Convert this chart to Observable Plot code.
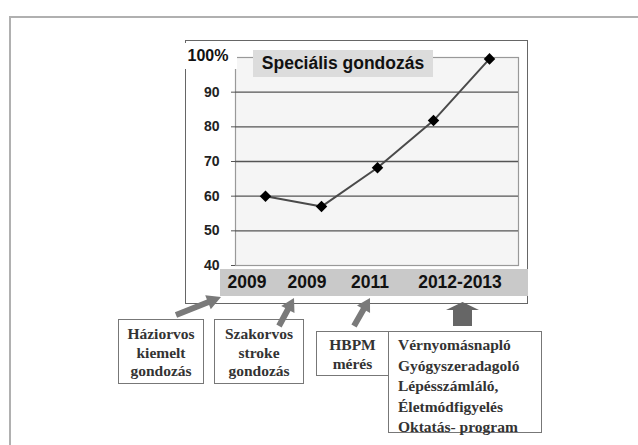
<!DOCTYPE html>
<html><head><meta charset="utf-8">
<script src="https://cdn.jsdelivr.net/npm/d3@7"></script>
<script src="https://cdn.jsdelivr.net/npm/@observablehq/plot@0.6"></script>
<style>
body{margin:0;background:#fff;}
#wrap{position:relative;width:638px;height:445px;overflow:hidden;font-family:"Liberation Sans",Arial,sans-serif;}
#wrap svg{position:absolute;left:0;top:0;}
.abs{position:absolute;box-sizing:border-box;}
.box{position:absolute;box-sizing:border-box;border:1.5px solid #777;background:#fff;font-family:"Liberation Serif","Times New Roman",serif;font-weight:bold;font-size:15.5px;color:#333;line-height:18.5px;white-space:nowrap;}
.yr{position:absolute;top:0;font-weight:bold;font-size:17.5px;color:#111;line-height:27px;transform:translateX(-50%);white-space:nowrap;}
</style></head>
<body><div id="wrap"></div>
<script>
const points = ["p1","p2","p3","p4","p5"];
const values = [60, 57, 68.2, 81.8, 99.6];
const yTicks = [40, 50, 60, 70, 80, 90];
const gridValues = [50, 60, 70, 80, 90];
const title = "Speciális gondozás";
const topLabel = "100%";
const yearLabels = ["2009", "2009", "2011", "2012-2013"];
const notes = [
  ["Háziorvos", "kiemelt", "gondozás"],
  ["Szakorvos", "stroke", "gondozás"],
  ["HBPM", "mérés"],
  ["Vérnyomásnapló", "Gyógyszeradagoló", "Lépésszámláló,", "Életmódfigyelés", "Oktatás- program"]
];

const data = points.map((p, i) => ({p, v: values[i]}));
const wrap = document.getElementById("wrap");

// outer frame and inner chart frame (drawn behind)
const outer = document.createElement("div");
outer.className = "abs";
Object.assign(outer.style, {left:"9px", top:"16px", width:"640px", height:"440px", borderTop:"2px solid #b0b0b0", borderLeft:"2px solid #b0b0b0"});
wrap.appendChild(outer);
const inner = document.createElement("div");
inner.className = "abs";
Object.assign(inner.style, {left:"185px", top:"40px", width:"343px", height:"264px", border:"1.5px solid #666", background:"#fff"});
wrap.appendChild(inner);

const chart = Plot.plot({
  width: 638, height: 445,
  marginLeft: 235, marginRight: 120, marginTop: 57, marginBottom: 180,
  style: {background: "transparent", fontFamily: "Liberation Sans, Arial, sans-serif"},
  x: {type: "point", domain: points, padding: 0.5, axis: null},
  y: {domain: [40, 100], axis: null},
  marks: [
    Plot.frame({fill: "#f5f5f5", stroke: "#999", strokeWidth: 1.2}),
    Plot.ruleY(gridValues, {stroke: "#555", strokeWidth: 1.3}),
    Plot.axisY({ticks: yTicks, tickSize: 4, tickPadding: 12, fontSize: 14, fontWeight: "bold", fill: "#222", stroke: "#555", label: null, tickFormat: d => String(d)}),
    Plot.line(data, {x: "p", y: "v", stroke: "#4a4a4a", strokeWidth: 2}),
    Plot.dot(data, {x: "p", y: "v", symbol: "square", rotate: 45, r: 4.6, fill: "#000", stroke: "none"})
  ]
});
wrap.appendChild(chart);

// 100% label
const hundred = document.createElement("div");
hundred.className = "abs";
Object.assign(hundred.style, {left:"179px", top:"43px", width:"58px", height:"26px", background:"#fff", fontWeight:"bold", fontSize:"16px", color:"#111", lineHeight:"26px", textAlign:"center"});
hundred.textContent = topLabel;
wrap.appendChild(hundred);

// title
const t = document.createElement("div");
t.className = "abs";
Object.assign(t.style, {left:"253px", top:"50px", width:"180px", height:"27px", background:"#dcdcdc", fontWeight:"bold", fontSize:"17.5px", color:"#111", lineHeight:"27px", textAlign:"center", whiteSpace:"nowrap"});
t.textContent = title;
wrap.appendChild(t);

// year bar
const bar = document.createElement("div");
bar.className = "abs";
Object.assign(bar.style, {left:"220px", top:"269px", width:"308px", height:"27px", background:"#c9c9c9"});
wrap.appendChild(bar);
const yrPos = [27, 87, 150, 240];
yearLabels.forEach((s, i) => {
  const d = document.createElement("div");
  d.className = "yr";
  d.style.left = yrPos[i] + "px";
  d.textContent = s;
  bar.appendChild(d);
});

// note boxes
const boxes = [
  {l:118, t:319, w:86, h:65, align:"center", pad:"5px 0"},
  {l:214, t:319, w:90, h:65, align:"center", pad:"5px 0"},
  {l:316, t:331, w:73, h:45, align:"center", pad:"3px 0"},
  {l:388, t:331, w:154, h:102, align:"left", pad:"3px 0 0 9px"}
];
boxes.forEach((b, i) => {
  const d = document.createElement("div");
  d.className = "box";
  Object.assign(d.style, {left:b.l+"px", top:b.t+"px", width:b.w+"px", height:b.h+"px", textAlign:b.align, padding:b.pad});
  if (i === 3) d.style.lineHeight = "20.5px";
  if (i === 2) d.style.lineHeight = "19px";
  d.innerHTML = notes[i].join("<br>");
  wrap.appendChild(d);
});

// arrows overlay
const svg = d3.select(wrap).append("svg").attr("width", 638).attr("height", 445).style("pointer-events", "none");
function arrow(x1, y1, x2, y2, w, hw, hl, fill) {
  const dx = x2 - x1, dy = y2 - y1, L = Math.hypot(dx, dy);
  const ux = dx / L, uy = dy / L, nx = -uy, ny = ux;
  const bx = x2 - ux * hl, by = y2 - uy * hl;
  const pts = [
    [x1 + nx * w / 2, y1 + ny * w / 2],
    [bx + nx * w / 2, by + ny * w / 2],
    [bx + nx * hw / 2, by + ny * hw / 2],
    [x2, y2],
    [bx - nx * hw / 2, by - ny * hw / 2],
    [bx - nx * w / 2, by - ny * w / 2],
    [x1 - nx * w / 2, y1 - ny * w / 2]
  ];
  svg.append("polygon").attr("points", pts.map(p => p.join(",")).join(" ")).attr("fill", fill);
}
arrow(176, 315, 221, 297, 6, 15, 14, "#7a7a7a");
arrow(279, 326, 294, 298, 6, 15, 13, "#7a7a7a");
arrow(354, 326, 370, 298, 6, 15, 13, "#7a7a7a");
arrow(462.5, 326, 462.5, 302, 19, 33, 8, "#666");
</script></body></html>
